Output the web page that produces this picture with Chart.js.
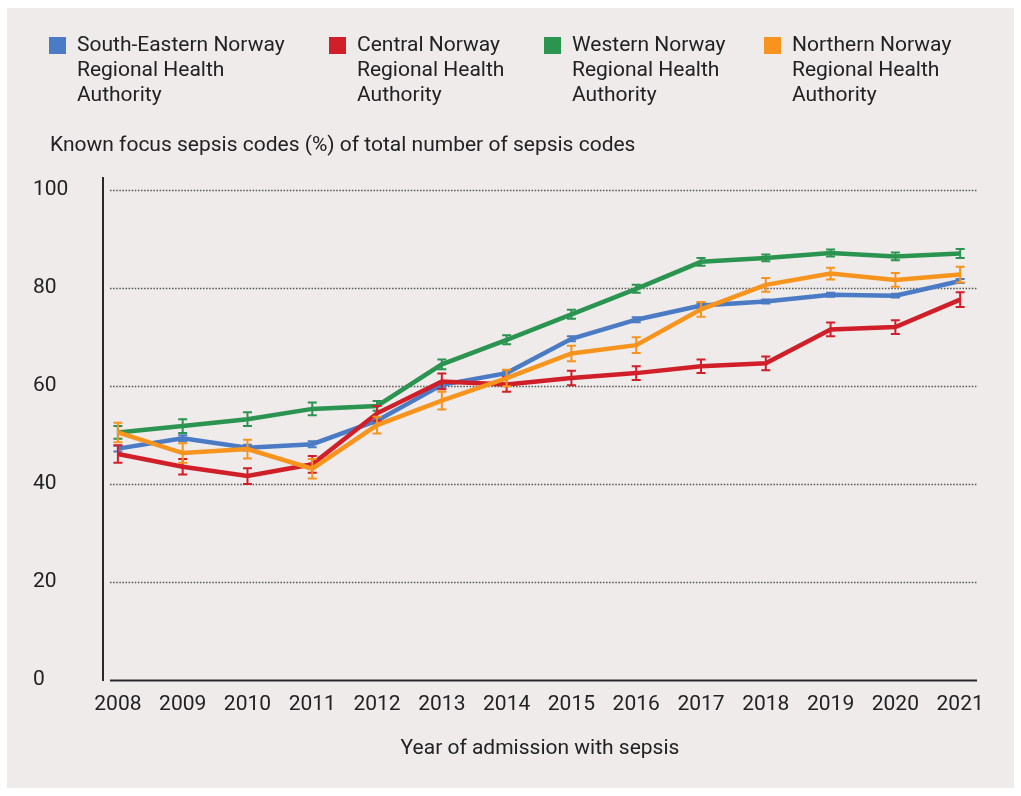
<!DOCTYPE html>
<html lang="en">
<head>
  <meta charset="UTF-8" />
  <title>Known focus sepsis codes</title>
  <script src="https://cdn.jsdelivr.net/npm/chart.js"></script>
  <style>
    html, body { margin: 0; padding: 0; background: #ffffff; }
    .frame {
      position: relative; width: 1021px; height: 796px; overflow: hidden;
      font-family: Roboto, "Liberation Sans", sans-serif; color: #222;
    }
    .panel { position: absolute; left: 7px; top: 8px; right: 7px; bottom: 8px; background: #eeebea; }
    #chart { position: absolute; left: 0; top: 0; }
    .legend-item { position: absolute; top: 32px; font-size: 21px; line-height: 25px; white-space: pre-line; padding-left: 28px; }
    .legend-item span { position: absolute; left: 0; top: 5px; width: 17px; height: 17px; }
    .ytitle { position: absolute; left: 50px; top: 132px; font-size: 21px; }
  </style>
</head>
<body>
  <div class="frame">
    <div class="panel"></div>
    <canvas id="chart" width="1021" height="796"></canvas>
    <div id="legend"></div>
    <div class="ytitle">Known focus sepsis codes (%) of total number of sepsis codes</div>
  </div>

  <script>
    // data
    const years = [2008, 2009, 2010, 2011, 2012, 2013, 2014, 2015, 2016, 2017, 2018, 2019, 2020, 2021];
    const yTicks = [0, 20, 40, 60, 80, 100];

    const seriesNames = [
      'South-Eastern Norway\nRegional Health\nAuthority',
      'Central Norway\nRegional Health\nAuthority',
      'Western Norway\nRegional Health\nAuthority',
      'Northern Norway\nRegional Health\nAuthority'
    ];
    const seriesColors = ['#4a7bc4', '#d11f2a', '#2b9450', '#f7941e'];

    const southEastern = [47.2, 49.3, 47.4, 48.1, 52.9, 60.2, 62.6, 69.6, 73.5, 76.4, 77.2, 78.6, 78.4, 81.4];
    const central      = [46.1, 43.5, 41.6, 44.0, 54.4, 60.9, 60.3, 61.6, 62.6, 64.0, 64.6, 71.5, 72.0, 77.6];
    const western      = [50.5, 51.8, 53.2, 55.3, 55.9, 64.4, 69.4, 74.6, 79.8, 85.3, 86.1, 87.1, 86.4, 87.0];
    const northern     = [50.5, 46.3, 47.1, 43.1, 52.0, 57.0, 61.6, 66.6, 68.3, 75.6, 80.6, 82.9, 81.6, 82.7];

    // half-width of the error bars (percentage points)
    const southEasternErr = [0.6, 0.6, 0.6, 0.6, 0.6, 0.6, 0.5, 0.5, 0.5, 0.5, 0.4, 0.4, 0.4, 0.4];
    const centralErr      = [1.8, 1.6, 1.6, 1.7, 1.5, 1.6, 1.5, 1.5, 1.4, 1.4, 1.4, 1.4, 1.4, 1.5];
    const westernErr      = [1.3, 1.4, 1.4, 1.3, 1.0, 1.0, 0.9, 0.9, 0.8, 0.8, 0.7, 0.7, 0.8, 0.9];
    const northernErr     = [2.0, 2.0, 1.9, 2.0, 1.7, 1.8, 1.7, 1.6, 1.6, 1.5, 1.4, 1.2, 1.4, 1.6];

    const values = [southEastern, central, western, northern];
    const errors = [southEasternErr, centralErr, westernErr, northernErr];
    const drawOrder = [3, 1, 2, 0]; // orange on top, blue underneath

    // html legend
    const legendEl = document.getElementById('legend');
    const legendX = [49, 329, 544, 764];
    seriesNames.forEach((name, i) => {
      const div = document.createElement('div');
      div.className = 'legend-item';
      div.style.left = legendX[i] + 'px';
      div.innerHTML = '<span style="background:' + seriesColors[i] + '"></span>';
      div.appendChild(document.createTextNode(name));
      legendEl.appendChild(div);
    });

    const font = { family: 'Roboto, "Liberation Sans", sans-serif', size: 21 };

    // dotted gridlines + x axis baseline
    const gridPlugin = {
      id: 'grid',
      beforeDatasetsDraw(chart) {
        const { ctx, chartArea, scales } = chart;
        ctx.save();
        yTicks.forEach(t => {
          const y = Math.round(scales.y.getPixelForValue(t)) + 0.5;
          ctx.beginPath();
          if (t === 0) {
            ctx.setLineDash([]);
            ctx.strokeStyle = '#2a2a2a';
            ctx.lineWidth = 2;
          } else {
            ctx.setLineDash([1.5, 1.6]);
            ctx.strokeStyle = '#555';
            ctx.lineWidth = 1.5;
          }
          ctx.moveTo(chartArea.left + 7, y);
          ctx.lineTo(chartArea.right, y);
          ctx.stroke();
        });
        ctx.restore();
      }
    };

    // error bars, drawn right after each line
    const errorBarPlugin = {
      id: 'errorBars',
      afterDatasetDraw(chart, args) {
        const ds = chart.data.datasets[args.index];
        const err = errors[args.index];
        const yScale = chart.scales.y;
        const ctx = chart.ctx;
        ctx.save();
        ctx.strokeStyle = ds.borderColor;
        ctx.lineWidth = 2;
        args.meta.data.forEach((pt, i) => {
          const v = ds.data[i].y;
          const top = yScale.getPixelForValue(v + err[i]);
          const bot = yScale.getPixelForValue(v - err[i]);
          ctx.beginPath();
          ctx.moveTo(pt.x, top); ctx.lineTo(pt.x, bot);
          ctx.moveTo(pt.x - 4.5, top); ctx.lineTo(pt.x + 4.5, top);
          ctx.moveTo(pt.x - 4.5, bot); ctx.lineTo(pt.x + 4.5, bot);
          ctx.stroke();
        });
        ctx.restore();
      }
    };

    const ctx = document.getElementById('chart').getContext('2d');
    new Chart(ctx, {
      type: 'line',
      data: {
        datasets: values.map((vals, i) => ({
          label: seriesNames[i],
          data: vals.map((v, j) => ({ x: years[j], y: v })),
          borderColor: seriesColors[i],
          backgroundColor: seriesColors[i],
          borderWidth: 4.5,
          pointRadius: 0,
          tension: 0,
          order: drawOrder[i]
        }))
      },
      options: {
        responsive: false,
        animation: false,
        layout: { padding: { left: 33, top: 178, right: 44, bottom: 0 } },
        plugins: { legend: { display: false }, tooltip: { enabled: false } },
        scales: {
          x: {
            type: 'linear',
            min: 2007.77,
            max: 2021.26,
            afterBuildTicks: s => { s.ticks = years.map(v => ({ value: v })); },
            afterFit: s => { s.height = 116; },
            grid: { display: false, drawTicks: false },
            border: { display: false },
            ticks: { color: '#222', font, padding: 12, maxRotation: 0, autoSkip: false, callback: v => String(v) },
            title: {
              display: true,
              text: 'Year of admission with sepsis',
              color: '#222',
              font: { family: font.family, size: 21 },
              padding: { top: 0, bottom: 35 }
            }
          },
          y: {
            min: 0,
            max: 102.4,
            afterBuildTicks: s => { s.ticks = yTicks.map(v => ({ value: v })); },
            afterFit: s => { s.width = 70; },
            grid: { display: false, drawTicks: false },
            border: { display: true, color: '#2a2a2a', width: 2 },
            ticks: { color: '#222', font, crossAlign: 'far', padding: 8 }
          }
        }
      },
      plugins: [gridPlugin, errorBarPlugin]
    });
  </script>
</body>
</html>
